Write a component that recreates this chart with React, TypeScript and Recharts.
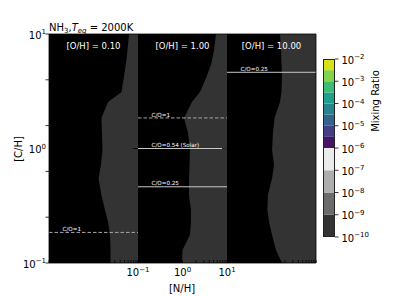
import React from 'react'
import { Area, Bar, BarChart, CartesianGrid, ComposedChart, ReferenceLine, XAxis, YAxis } from 'recharts'

const FONT = 'DejaVu Sans'

const chRows = [10, 7.25, 5.58, 4.21, 3.11, 2.55, 1.85, 1.37, 0.97, 0.72, 0.55, 0.39, 0.29, 0.228, 0.176, 0.13, 0.1]

// [N/H] of the edge between the black and the dark grey fill, one per row
const edgeOH010 = [6.28, 5.81, 5.37, 4.84, 4.26, 2.12, 1.51, 1.55, 1.59, 1.47, 1.3, 1.51, 1.81, 2.12, 2.35, 2.41, 2.41]
const edgeOH100 = [5.66, 5.11, 4.49, 3.46, 2.47, 1.63, 1.08, 1.33, 1.47, 1.44, 1.4, 1.4, 1.55, 1.55, 1.47, 1.0, 0.97]
const edgeOH1000 = [1.55, 1.64, 1.68, 1.72, 1.68, 1.55, 1.17, 1.08, 1.03, 1.14, 1.03, 0.83, 0.81, 0.88, 1.03, 1.26, 1.72]

const ohTitles = ['[O/H] = 0.10', '[O/H] = 1.00', '[O/H] = 10.00']

// C/O guide lines, [C/H] where each sits
const coOH010 = [{ ch: 0.185, co: 1, label: 'C/O=1' }]
const coOH100 = [
  { ch: 1.85, co: 1, label: 'C/O=1' },
  { ch: 1.0, co: 0.54, label: 'C/O=0.54 (Solar)' },
  { ch: 0.463, co: 0.25, label: 'C/O=0.25' },
]
const coOH1000 = [{ ch: 4.63, co: 0.25, label: 'C/O=0.25' }]

const logTicks = [0.1, 0.2, 0.3, 0.4, 0.5, 0.6, 0.7, 0.8, 0.9, 1, 2, 3, 4, 5, 6, 7, 8, 9, 10]
const majorTicks = [0.1, 1, 10]
const frameTicks = [0, 0.2, 0.4, 0.6, 0.8, 1]

// colour bar: exponents of the level edges, band heights (decades) and colours, bottom to top
const cbExponents = [-10, -9, -8, -7, -6, -5, -4, -3, -2]
const cbBands = [1, 1, 1, 1, 0.5, 0.5, 0.5, 0.5, 0.5, 0.5, 0.5, 0.5]
const cbColors = [
  '#333333', '#6b6b6b', '#adadad', '#ebebeb',
  '#471365', '#433e85', '#33638d', '#26828e', '#1f9e89', '#3fbc73', '#84d44b', '#d8e219',
]

const PX = 89 // panel width
const PY = 229 // panel height
const TOP = 34
const LEFT = 49

function Pow({ x, y, exp, anchor }: { x: number; y: number; exp: number; anchor: 'start' | 'middle' | 'end' }) {
  const e = exp < 0 ? '\u2212' + -exp : String(exp)
  return (
    <text x={x} y={y} textAnchor={anchor} fontSize={10} fontFamily={FONT} fill="#000">
      10<tspan dy={-4.3} fontSize={7}>{e}</tspan>
    </text>
  )
}

function XTick(props: any) {
  const { x, y, payload, show } = props
  if (!show || !majorTicks.includes(payload.value)) return null
  return <Pow x={x} y={y + 13} exp={Math.round(Math.log10(payload.value))} anchor="middle" />
}

function YTick(props: any) {
  const { x, y, payload, show } = props
  if (!show) return null
  return <Pow x={x} y={y + 4.5} exp={Math.round(Math.log10(payload.value))} anchor="end" />
}

function CbTick(props: any) {
  const { x, y, payload } = props
  return <Pow x={x} y={y + 4.5} exp={cbExponents[0] + payload.value} anchor="start" />
}

function CoLabel(props: any) {
  const { viewBox, text } = props
  return (
    <text x={viewBox.x + 13.5} y={viewBox.y - 1.3} fill="#fff" fontSize={5.6} fontFamily={FONT}>
      {text}
    </text>
  )
}

function Panel({ left, edge, lines, showX, showY }: {
  left: number
  edge: number[]
  lines: { ch: number; co: number; label: string }[]
  showX: boolean
  showY: boolean
}) {
  const data = chRows.map((ch, i) => ({ ch, nh: edge[i] }))
  const mL = showY ? 45 : 20
  return (
    <div style={{ position: 'absolute', left: left - mL, top: TOP - 10 }}>
      <ComposedChart
        layout="vertical"
        width={mL + PX + 20}
        height={10 + PY + 33}
        data={data}
        margin={{ top: 10, right: 20, bottom: 0, left: mL - 1 }}
      >
        <CartesianGrid fill="#000" stroke="none" horizontal={false} vertical={false} />
        <XAxis
          type="number"
          scale="log"
          domain={[0.1, 10]}
          allowDataOverflow
          ticks={logTicks}
          interval={0}
          height={33}
          axisLine={false}
          tickSize={-3}
          tickMargin={3}
          tickLine={{ stroke: '#000', strokeWidth: 0.8 }}
          tick={<XTick show={showX} />}
        />
        <YAxis
          type="number"
          dataKey="ch"
          scale="log"
          domain={[0.1, 10]}
          allowDataOverflow
          reversed
          width={1}
          ticks={showY ? majorTicks : [1]}
          interval={0}
          axisLine={false}
          tickSize={showY ? 0 : 5}
          tickMargin={3}
          tickLine={showY ? false : { stroke: '#000', strokeWidth: 0.8 }}
          tick={<YTick show={showY} />}
        />
        <Area
          type="linear"
          dataKey="nh"
          baseValue="dataMax"
          fill="#333333"
          fillOpacity={1}
          stroke="none"
          isAnimationActive={false}
        />
        {lines.map((l) => (
          <ReferenceLine
            key={l.label}
            y={l.ch}
            stroke={l.co === 1 ? '#a8a8a8' : '#c8c8c8'}
            strokeWidth={1}
            strokeDasharray={l.co === 1 ? '3.5 2' : undefined}
            label={<CoLabel text={l.label} />}
          />
        ))}
      </ComposedChart>
    </div>
  )
}

export default function App() {
  const cbRow: Record<string, number | string> = { name: 'cb' }
  cbBands.forEach((h, i) => (cbRow['b' + i] = h))
  const cbTicks = cbExponents.map((e) => e - cbExponents[0])
  const lefts = [LEFT, LEFT + PX, LEFT + 2 * PX]
  const axisStroke = { stroke: '#000', strokeWidth: 0.8 }

  return (
    <div style={{ position: 'absolute', left: 0, top: 0, width: 394, height: 296, background: '#fff', fontFamily: FONT }}>
      <Panel left={lefts[0]} edge={edgeOH010} lines={coOH010} showX={false} showY />
      <Panel left={lefts[1]} edge={edgeOH100} lines={coOH100} showX showY={false} />
      <Panel left={lefts[2]} edge={edgeOH1000} lines={coOH1000} showX={false} showY={false} />

      <div style={{ position: 'absolute', left: 0, top: 0 }}>
        <ComposedChart
          width={394}
          height={296}
          data={[]}
          margin={{ top: TOP - 1, right: 394 - LEFT - 3 * PX - 1, bottom: 296 - TOP - PY - 1, left: LEFT - 1 }}
        >
          <XAxis xAxisId="b" type="number" domain={[0, 1]} allowDataOverflow ticks={frameTicks} interval={0} height={1} tickSize={3.5}
            tickFormatter={() => ''} axisLine={axisStroke} tickLine={axisStroke} />
          <XAxis xAxisId="t" orientation="top" type="number" domain={[0, 1]} allowDataOverflow ticks={frameTicks} height={1} tickSize={0}
            tickFormatter={() => ''} tickLine={false} axisLine={axisStroke} />
          <YAxis yAxisId="l" type="number" domain={[0, 1]} allowDataOverflow ticks={frameTicks} interval={0} width={1} tickSize={3.5}
            tickFormatter={() => ''} axisLine={axisStroke} tickLine={axisStroke} />
          <YAxis yAxisId="r" orientation="right" type="number" domain={[0, 1]} allowDataOverflow ticks={frameTicks} width={1} tickSize={0}
            tickFormatter={() => ''} tickLine={false} axisLine={axisStroke} />
        </ComposedChart>
      </div>

      <div style={{ position: 'absolute', left: 323, top: 49 }}>
        <BarChart width={12 + 50} height={178 + 20} data={[cbRow]} margin={{ top: 10, right: 0, bottom: 10, left: 0 }} barCategoryGap={0}>
          <XAxis dataKey="name" type="category" hide />
          <YAxis orientation="right" type="number" domain={[0, 8]} allowDataOverflow ticks={cbTicks} interval={0} width={50}
            tickSize={3.5} tickMargin={3} axisLine={false} tickLine={axisStroke} tick={<CbTick />} />
          {cbBands.map((_, i) => (
            <Bar key={i} dataKey={'b' + i} stackId="cb" fill={cbColors[i]} isAnimationActive={false} />
          ))}
        </BarChart>
      </div>
      <div style={{ position: 'absolute', left: 323, top: 59, width: 12, height: 178, border: '0.8px solid #222', boxSizing: 'border-box', pointerEvents: 'none' }} />

      <svg width={394} height={296} style={{ position: 'absolute', left: 0, top: 0, pointerEvents: 'none' }}>
        <text x={49} y={30.5} fontSize={10} fontFamily={FONT} fill="#000">
          NH<tspan dy={2.5} fontSize={7}>3</tspan>
          <tspan dy={-2.5}>,</tspan>
          <tspan fontStyle="italic">T</tspan>
          <tspan dy={2.5} fontSize={7} fontStyle="italic">eq</tspan>
          <tspan dy={-2.5}> = 2000K</tspan>
        </text>
        {ohTitles.map((t, i) => (
          <text key={t} x={lefts[i] + PX / 2} y={48.5} textAnchor="middle" fontSize={8.5} fontFamily={FONT} fill="#fff">
            {t}
          </text>
        ))}
        <text x={21.5} y={149} transform="rotate(-90 21.5 149)" textAnchor="middle" fontSize={10} fontFamily={FONT} fill="#000">
          [C/H]
        </text>
        <text x={182} y={292} textAnchor="middle" fontSize={10} fontFamily={FONT} fill="#000">
          [N/H]
        </text>
        <text x={379} y={101} transform="rotate(-90 379 101)" textAnchor="middle" fontSize={10} fontFamily={FONT} fill="#000">
          Mixing Ratio
        </text>
      </svg>
    </div>
  )
}
